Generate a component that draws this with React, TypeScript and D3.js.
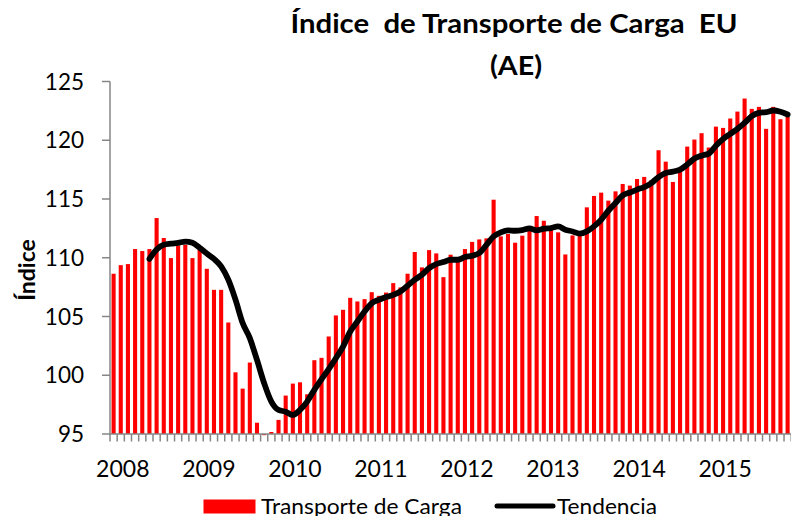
import React from "react";
import * as d3 from "d3";

const title1 = "Índice  de Transporte de Carga  EU";
const title2 = "(AE)";
const yTitle = "Índice";
const barLabel = "Transporte de Carga";
const lineLabel = "Tendencia";

const startYear = 2008;
const yearLabels = ["2008", "2009", "2010", "2011", "2012", "2013", "2014", "2015"];
const yTicks = [95, 100, 105, 110, 115, 120, 125];

// Monthly index, Jan 2008 .. Nov 2015
const freight = [
  108.64, 109.37, 109.46, 110.74, 110.57, 110.74, 113.38, 111.68, 109.97, 111.05, 111.1, 109.97,
  110.68, 109.06, 107.27, 107.27, 104.49, 100.25, 98.86, 101.08, 95.96, 94.9, 95.17, 96.2,
  98.27, 99.29, 99.4, 98.38, 101.28, 101.48, 103.3, 105.09, 105.57, 106.59, 106.28, 106.48,
  107.07, 106.76, 107.04, 107.84, 107.47, 108.64, 110.49, 109.18, 110.65, 110.37, 108.35, 110.26,
  109.91, 110.74, 111.35, 111.56, 111.65, 114.94, 111.82, 112.02, 111.28, 111.88, 112.67, 113.55,
  113.15, 112.4, 112.16, 110.28, 111.9, 111.9, 114.29, 115.26, 115.54, 114.86, 115.65, 116.28,
  116.14, 116.7, 116.88, 116.6, 119.15, 118.18, 116.45, 117.3, 119.46, 120.06, 120.6, 119.38,
  121.16, 121.05, 121.85, 122.44, 123.55, 122.67, 122.84, 120.97, 122.84, 121.79, 121.99,
];

const trend: (number | null)[] = [
  null, null, null, null, null, 109.9, 110.7, 111.1, 111.2, 111.27, 111.38, 111.27,
  110.85, 110.36, 109.9, 109.27, 108.13, 106.43, 104.44, 103.16, 101.3, 99.32, 97.76, 97.05,
  96.9, 96.62, 97.05, 97.76, 98.76, 99.66, 100.52, 101.45, 102.44, 103.72, 104.57, 105.42,
  106.13, 106.42, 106.65, 106.84, 107.13, 107.61, 108.13, 108.55, 109.12, 109.46, 109.63, 109.83,
  109.83, 110.06, 110.17, 110.4, 111.1, 111.82, 112.16, 112.33, 112.3, 112.36, 112.5, 112.33,
  112.47, 112.53, 112.67, 112.39, 112.24, 112.05, 112.24, 112.67, 113.24, 114.0, 114.66, 115.31,
  115.55, 115.8, 116.02, 116.36, 116.87, 117.22, 117.33, 117.5, 117.93, 118.44, 118.69, 118.86,
  119.54, 120.11, 120.54, 120.97, 121.48, 122.05, 122.33, 122.39, 122.53, 122.42, 122.19,
];

const W = 791;
const H = 516;
const FONT = "Lato, 'Open Sans', sans-serif";
const AXIS = "#868686";

export default function App() {
  const idx = freight.map((_, i) => i);
  const x = d3
    .scaleBand<number>()
    .domain(idx)
    .range([110, 791.2])
    .paddingInner(0.43)
    .paddingOuter(0.215);
  const step = x.step();
  const x0 = 110;
  const y = d3.scaleLinear().domain([95, 125]).range([434, 81.5]);
  const base = y(95);

  const line = d3
    .line<number | null>()
    .defined((d) => d != null)
    .x((_, i) => (x(i) as number) + x.bandwidth() / 2)
    .y((d) => y(d as number))
    .curve(d3.curveMonotoneX);

  const monthTicks = d3.range(0, freight.length + 1).map((i) => x0 + i * step);

  return (
    <svg
      width={W}
      height={H}
      style={{ position: "absolute", left: 0, top: 0, background: "#fff" }}
      fontFamily={FONT}
    >
      {/* title */}
      <text
        x={290.5}
        y={33}
        fontSize={26.5}
        fontWeight="bold"
        textLength={447}
        lengthAdjust="spacingAndGlyphs"
        style={{ whiteSpace: "pre" }}
      >
        {title1}
      </text>
      <text x={490} y={75} fontSize={26.5} fontWeight="bold" textLength={52} lengthAdjust="spacingAndGlyphs">
        {title2}
      </text>

      {/* y axis title */}
      <text
        transform={`translate(35,270) rotate(-90)`}
        textAnchor="middle"
        fontSize={23}
        fontWeight="bold"
      >
        {yTitle}
      </text>

      {/* bars */}
      {freight.map((v, i) => {
        const yv = y(v);
        return (
          <rect
            key={i}
            x={x(i)}
            y={Math.min(yv, base)}
            width={x.bandwidth()}
            height={Math.abs(base - yv)}
            fill="#ff0000"
          />
        );
      })}

      {/* y axis */}
      <line x1={x0} x2={x0} y1={y(125)} y2={base} stroke={AXIS} strokeWidth={1.5} />
      {yTicks.map((t) => (
        <g key={t}>
          <line x1={x0 - 8} x2={x0} y1={y(t)} y2={y(t)} stroke={AXIS} strokeWidth={1.5} />
          <text x={84} y={y(t)} dy="0.36em" textAnchor="end" fontSize={22.5} fill="#000">
            {t}
          </text>
        </g>
      ))}

      {/* x axis */}
      <line x1={x0} x2={W} y1={base} y2={base} stroke={AXIS} strokeWidth={1.5} />
      {monthTicks.map((tx, i) => (
        <line key={i} x1={tx} x2={tx} y1={base} y2={base + 7.5} stroke={AXIS} strokeWidth={1.5} />
      ))}
      {yearLabels.map((lab) => (
        <text
          key={lab}
          x={x0 + (Number(lab) - startYear) * 12 * step + 12.8}
          y={476.5}
          textAnchor="middle"
          fontSize={23}
        >
          {lab}
        </text>
      ))}

      {/* trend line */}
      <path d={line(trend) || ""} fill="none" stroke="#000" strokeWidth={5.8} strokeLinejoin="round" strokeLinecap="round" />

      {/* legend */}
      <rect x={203.5} y={499.5} width={52} height={14} fill="#ff0000" />
      <text x={261} y={513.5} fontSize={21.5} textLength={201} lengthAdjust="spacingAndGlyphs">
        {barLabel}
      </text>
      <line x1={497} x2={553} y1={506} y2={506} stroke="#000" strokeWidth={5} strokeLinecap="round" />
      <text x={557} y={513.5} fontSize={21.5} textLength={100} lengthAdjust="spacingAndGlyphs">
        {lineLabel}
      </text>
    </svg>
  );
}
